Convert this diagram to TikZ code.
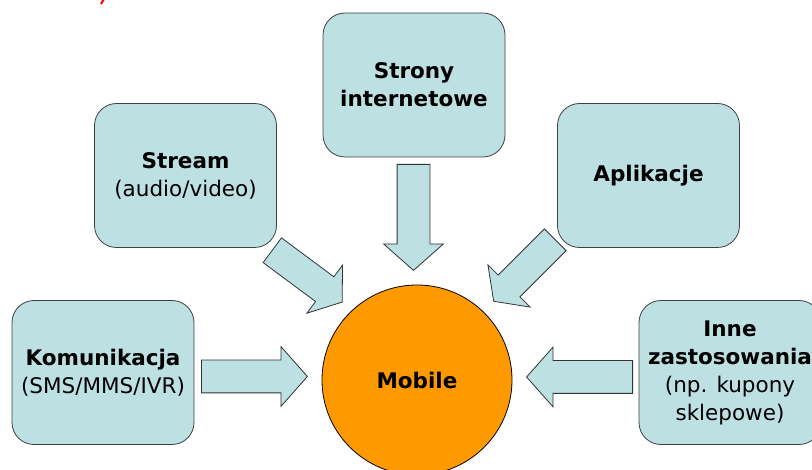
\documentclass[tikz,border=0pt]{standalone}
\usepackage{fontspec}
\setmainfont{DejaVu Sans}
\usetikzlibrary{shapes.arrows}

\definecolor{boxblue}{RGB}{189,224,227}
\definecolor{mobileorange}{RGB}{255,153,0}

\tikzset{
	topicbox/.style={draw=black!75, fill=boxblue, line width=0.8pt, rounded corners=22pt,
		minimum width=182pt, minimum height=144pt, align=center,
		font=\fontsize{21.5pt}{28pt}\selectfont},
	blockarrow/.style={single arrow, draw=black!80, fill=boxblue, line width=0.8pt,
		inner sep=0pt, inner ysep=16pt, minimum height=106pt,
		single arrow head extend=13.5pt, single arrow tip angle=97, anchor=tail},
}

\begin{document}
\begin{tikzpicture}[x=1pt,y=-1pt]
						\useasboundingbox (0,0) rectangle (812,470);
						
						\draw[red, line width=2pt] (101,4) -- (104,-1);
						
						\node[topicbox] (stream) at (185.5,175.5) {\textbf{Stream}\\(audio/video)};
						\node[topicbox] (strony) at (414,85) {\textbf{Strony}\\\textbf{internetowe}};
						\node[topicbox] (aplikacje) at (648.5,175.5) {\textbf{Aplikacje}};
						\node[topicbox] (komunikacja) at (103,372.5) {\textbf{Komunikacja}\\(SMS/MMS/IVR)};
						\node[topicbox] (inne) at (730,372.5) {\textbf{Inne}\\\textbf{zastosowania}\\(np. kupony\\sklepowe)};
						
						\node[draw=black, line width=0.8pt, fill=mobileorange, circle, minimum size=190pt,
							font=\fontsize{21.5pt}{28pt}\selectfont\bfseries] (mobile) at (417,380) {Mobile};
						
						\node[blockarrow] (arrkom) at (201,376.5) {};
						\node[blockarrow, rotate=-90] (arrstrony) at (413.5,164) {};
						\node[blockarrow, rotate=180] (arrinne) at (633,377) {};
						\node[blockarrow, rotate=-36.6, minimum height=87pt, inner ysep=15pt,
							single arrow head extend=14.5pt, single arrow tip angle=108] (arrstream) at (272,250) {};
						\node[blockarrow, rotate=-135, minimum height=87pt, inner ysep=15pt,
							single arrow head extend=14.5pt, single arrow tip angle=108] (arrapl) at (555.5,239.5) {};
						
						%\node at (417,300) {};
\end{tikzpicture}
\end{document}
